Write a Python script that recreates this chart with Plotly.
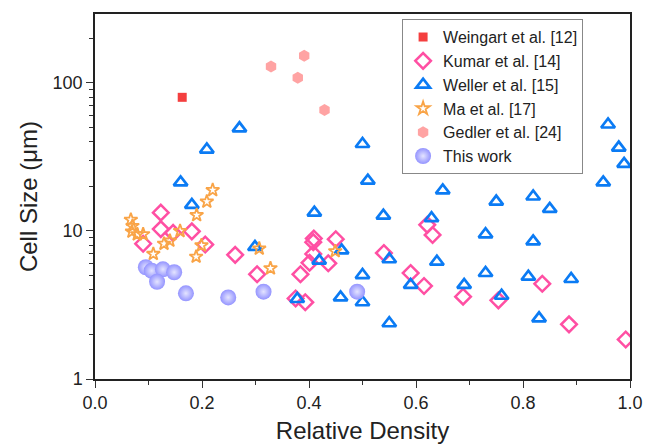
import plotly.graph_objects as go

# ---- data ----
weingart_x = [0.163]
weingart_y = [80]

kumar_x = [0.123, 0.123, 0.090, 0.146, 0.181, 0.206, 0.262, 0.303, 0.384, 0.375,
           0.393, 0.409, 0.408, 0.450, 0.408, 0.401, 0.436, 0.540, 0.590, 0.615,
           0.621, 0.631, 0.688, 0.754, 0.836, 0.886, 0.992]
kumar_y = [13.3, 10.3, 8.2, 9.7, 9.95, 8.1, 6.9, 5.1, 5.1, 3.5,
           3.3, 8.9, 8.4, 8.8, 7.0, 6.1, 6.05, 7.1, 5.2, 4.25,
           11.0, 9.4, 3.6, 3.4, 4.4, 2.34, 1.85]

weller_x = [0.160, 0.181, 0.209, 0.270, 0.299, 0.378, 0.410, 0.419, 0.461, 0.459,
            0.500, 0.500, 0.500, 0.510, 0.539, 0.550, 0.550, 0.590, 0.629, 0.639,
            0.650, 0.680, 0.690, 0.730, 0.730, 0.750, 0.760, 0.810, 0.819, 0.819,
            0.830, 0.850, 0.890, 0.950, 0.959, 0.979, 0.989]
weller_y = [21.3, 15.0, 35.5, 49.4, 7.8, 3.47, 13.3, 6.3, 7.4, 3.56,
            38.7, 5.04, 3.3, 21.9, 12.7, 6.44, 2.38, 4.32, 12.2, 6.2,
            18.8, 27.6, 4.32, 9.5, 5.2, 15.8, 3.65, 4.91, 17.1, 8.5,
            2.57, 14.1, 4.74, 21.3, 52.4, 36.6, 28.4]

ma_x = [0.067, 0.070, 0.069, 0.079, 0.090, 0.109, 0.129, 0.140, 0.159, 0.190,
        0.209, 0.220, 0.199, 0.189, 0.307, 0.328, 0.449]
ma_y = [11.9, 10.8, 9.9, 9.5, 9.5, 7.0, 8.2, 8.6, 10.0, 12.8,
        15.8, 18.9, 8.0, 6.7, 7.6, 5.6, 7.3]

gedler_x = [0.329, 0.391, 0.379, 0.429]
gedler_y = [129, 153, 108.6, 65.7]

this_x = [0.095, 0.106, 0.127, 0.148, 0.116, 0.170, 0.249, 0.315, 0.490]
this_y = [5.69, 5.39, 5.51, 5.26, 4.54, 3.79, 3.56, 3.89, 3.89]

FONT = "Liberation Sans, Arial, sans-serif"

fig = go.Figure()
fig.add_trace(go.Scatter(x=weingart_x, y=weingart_y, mode="markers", name="Weingart et al. [12]",
                         marker=dict(symbol="square", size=9, color="#f43f3f")))
fig.add_trace(go.Scatter(x=kumar_x, y=kumar_y, mode="markers", name="Kumar et al. [14]",
                         marker=dict(symbol="diamond-open", size=12, color="#ff4fa3",
                                     line=dict(width=2.5, color="#ff4fa3"))))
fig.add_trace(go.Scatter(x=weller_x, y=weller_y, mode="markers", name="Weller et al. [15]",
                         marker=dict(symbol="triangle-up-open", size=12, color="#0b7bf4",
                                     line=dict(width=2.7, color="#0b7bf4"))))
fig.add_trace(go.Scatter(x=ma_x, y=ma_y, mode="markers", name="Ma et al. [17]",
                         marker=dict(symbol="star-open", size=10, color="#f9a447",
                                     line=dict(width=1.8, color="#f9a447"))))
fig.add_trace(go.Scatter(x=gedler_x, y=gedler_y, mode="markers", name="Gedler et al. [24]",
                         marker=dict(symbol="hexagon", size=12, color="#ffa3a3")))
fig.add_trace(go.Scatter(x=this_x, y=this_y, mode="markers", name="This work",
                         marker=dict(symbol="circle", size=16, color="#9494ff",
                                     gradient=dict(type="radial", color="#e4e4ff"),
                                     line=dict(width=0))))

axis_common = dict(showgrid=False, zeroline=False, showline=True, linecolor="#222",
                   linewidth=1.5, mirror=True, ticks="outside", ticklen=7, tickwidth=1.2,
                   tickcolor="#333", tickfont=dict(family=FONT, size=18, color="#222"))

fig.update_xaxes(range=[0, 1], dtick=0.2, tickformat=".1f",
                 minor=dict(ticks="outside", ticklen=4, dtick=0.1, tickcolor="#333"),
                 title=dict(text="Relative Density", font=dict(family=FONT, size=24, color="#222"),
                            standoff=10),
                 **axis_common)
fig.update_yaxes(type="log", range=[0, 2.466], dtick=1, tickformat="d",
                 minor=dict(ticks="outside", ticklen=4, dtick="D1", tickcolor="#333"),
                 title=dict(text="Cell Size (μm)", font=dict(family=FONT, size=24, color="#222"),
                            standoff=8),
                 **axis_common)

fig.update_layout(
    width=646, height=446,
    margin=dict(l=95, r=16, t=14, b=67, autoexpand=False),
    paper_bgcolor="white", plot_bgcolor="white",
    font=dict(family=FONT, color="#222"),
    legend=dict(x=0.574, y=0.986, xanchor="left", yanchor="top",
                bgcolor="white", bordercolor="#888", borderwidth=1,
                font=dict(family=FONT, size=16, color="#222"),
                tracegroupgap=0),
)

fig.write_html("out.html")
